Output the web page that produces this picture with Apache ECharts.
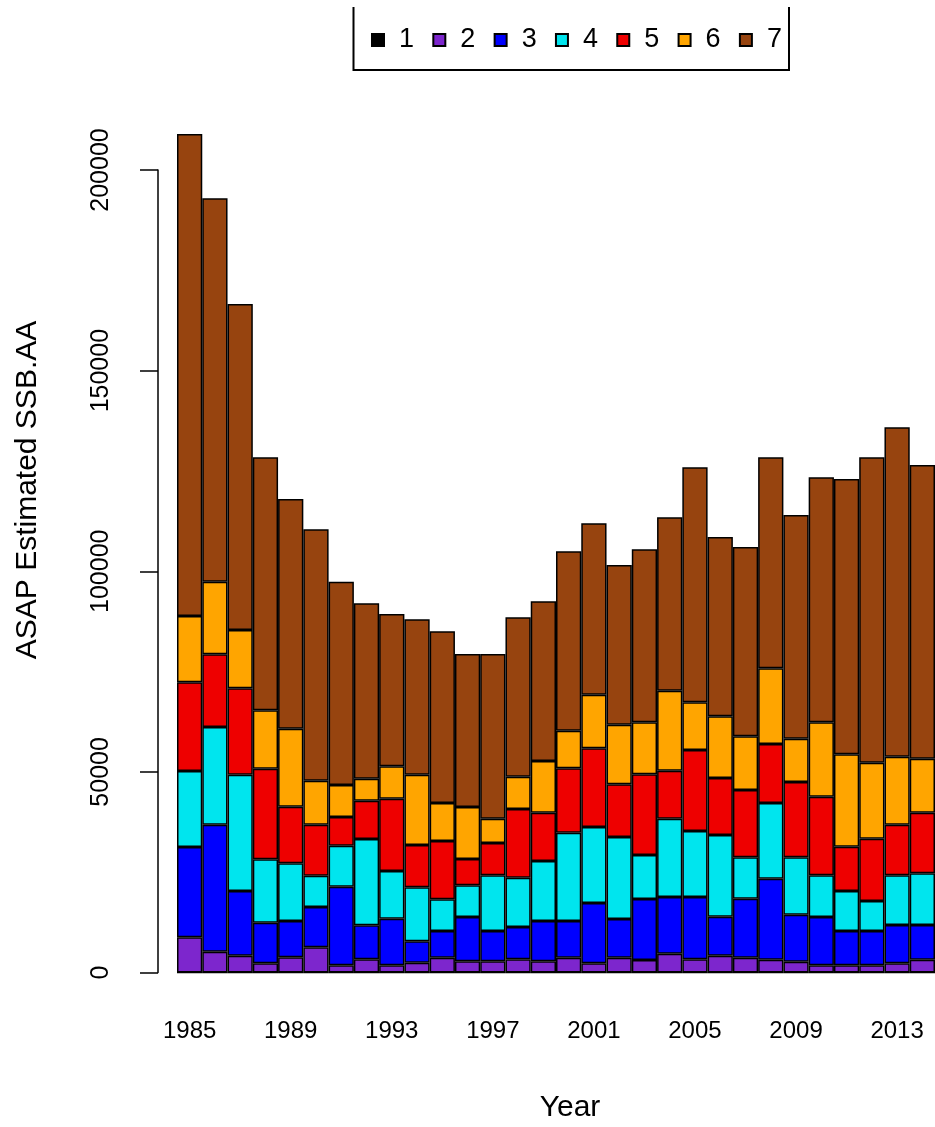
<!DOCTYPE html>
<html>
<head>
<meta charset="utf-8">
<script src="https://cdn.jsdelivr.net/npm/echarts@6/dist/echarts.min.js"></script>
<style>
  html, body { margin: 0; padding: 0; background: #fff; }
  #chart { width: 935px; height: 1127px; }
</style>
</head>
<body>
<div id="chart"></div>
<script>
const years = ['1985','1986','1987','1988','1989','1990','1991','1992','1993','1994',
  '1995','1996','1997','1998','1999','2000','2001','2002','2003','2004',
  '2005','2006','2007','2008','2009','2010','2011','2012','2013','2014'];
const age1 = [0,0,0,0,0,0,0,0,0,0,0,0,0,0,0,0,0,0,0,0,0,0,0,0,0,0,0,0,0,0];
const age2 = [8770,5180,4190,2290,3790,6280,1790,3290,1790,2440,3690,2790,2790,3290,2790,3690,2290,3690,3120,4680,3290,4190,3690,3190,2690,1790,1790,1790,2290,3190];
const age3 = [22500,31650,16120,10120,9040,10040,19590,8470,11620,5340,6650,11040,7550,8050,10040,9140,15030,9640,15200,14130,15520,9720,14700,20180,11710,12040,8550,8550,9550,8650];
const age4 = [18940,24350,28980,15800,14380,7800,10220,21510,11880,13450,7900,7900,13880,12280,14960,22010,18940,20440,10960,19520,16450,20360,10320,18870,14310,10390,9970,7480,12380,12880];
const age5 = [22110,18120,21530,22580,14110,12710,7150,9540,18020,10540,14530,6550,8050,17120,12030,16050,19610,13130,20110,11960,20190,14200,16770,14700,18760,19590,11040,15520,12610,15100];
const age6 = [16520,18090,14530,14550,19430,10970,7980,5490,8080,17520,9470,12960,6060,8050,12890,9370,13360,14850,12960,19930,11880,15380,13380,18870,10790,18540,23030,18940,16950,13460];
const age7 = [120110,95540,81240,63050,57250,62650,50660,43700,37950,38730,42790,38130,41040,39730,39790,44700,42710,39800,43110,43220,58570,44680,47170,52580,55750,61050,68600,76110,82080,73190];
const seriesNames = ['1','2','3','4','5','6','7'];
const seriesColors = ['#000000','#7D26CD','#0000FF','#00E5EE','#EE0000','#FFA500','#97440F'];
const seriesData = [age1, age2, age3, age4, age5, age6, age7];

const FONT = '"Liberation Sans", Arial, sans-serif';
const chart = echarts.init(document.getElementById('chart'), null, {renderer: 'canvas'});
chart.setOption({
  animation: false,
  backgroundColor: '#ffffff',
  grid: { left: 177, top: 170, width: 765, height: 802.5, containLabel: false },
  legend: {
    data: seriesNames,
    left: 371, top: 26, padding: 0,
    icon: 'rect', itemWidth: 12, itemHeight: 12, itemGap: 18.3,
    textStyle: { fontFamily: FONT, fontSize: 27, color: '#000', lineHeight: 28, padding: [0,0,0,10] }
  },
  xAxis: {
    type: 'category', data: years, boundaryGap: true,
    axisLine: { show: false }, axisTick: { show: false }, splitLine: { show: false },
    axisLabel: { interval: 3, margin: 47, fontFamily: FONT, fontSize: 24, color: '#000' }
  },
  yAxis: {
    type: 'value', min: 0, max: 200000, interval: 50000, offset: 19,
    axisLine: { show: true, lineStyle: { color: '#000', width: 1.5 } },
    axisTick: { show: true, length: 18, lineStyle: { color: '#000', width: 1.5 } },
    splitLine: { show: false },
    axisLabel: { rotate: 90, margin: 44, fontFamily: FONT, fontSize: 25, color: '#000',
      formatter: function (v) { return String(v); } }
  },
  graphic: [
    { type: 'polyline', shape: { points: [[353.5, 7], [353.5, 70], [789, 70], [789, 7]] },
      style: { fill: 'none', stroke: '#000', lineWidth: 2 } },
    { type: 'text', x: 28, y: 490, rotation: Math.PI / 2,
      style: { text: 'ASAP Estimated SSB.AA', font: '30px ' + FONT, fill: '#000',
        align: 'center', verticalAlign: 'middle', textAlign: 'center', textVerticalAlign: 'middle' } },
    { type: 'text', x: 570, y: 1108,
      style: { text: 'Year', font: '30px ' + FONT, fill: '#000',
        align: 'center', verticalAlign: 'middle', textAlign: 'center', textVerticalAlign: 'middle' } }
  ],
  series: seriesNames.map((n, i) => ({
    name: n, type: 'bar', stack: 'ssb', data: seriesData[i],
    barCategoryGap: '0%', clip: false,
    itemStyle: { color: seriesColors[i], borderColor: '#000', borderWidth: 1.5 },
    emphasis: { disabled: true }
  }))
});
</script>
</body>
</html>
